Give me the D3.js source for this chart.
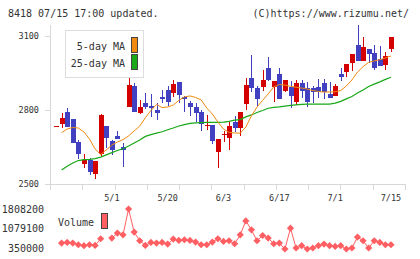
<!DOCTYPE html>
<html>
<head>
<meta charset="utf-8">
<script src="https://cdn.jsdelivr.net/npm/d3@7"></script>
<style>
  body { margin: 0; background: #fff; }
  svg { display: block; font-family: 'DejaVu Sans Mono', monospace; }
</style>
</head>
<body>
<div class="chart"></div>
<script>
// ===== daily candles, 61 sessions up to 07/15 =====
const opens  = [2734,2742,2793,2762,2669,2580,2597,2539,2620,2735,2676,2695,2649,2813,2897,2789,2830,2816,2800,2851,
                2881,2870,2912,2854,2827,2811,2793,2738,2739,2631,2700,2685,2753,2726,2824,2931,2888,2894,2971,2894,
                2946,2877,2894,2834,2908,2888,2888,2892,2908,2865,2857,2946,2955,2989,3064,3000,3047,3030,3007,2982,3047]
const highs  = [2734,2789,2809,2762,2678,2622,2607,2593,2784,2735,2678,2715,2665,2933,2911,2840,2868,2865,2827,2881,
                2897,2921,2915,2856,2838,2827,2800,2780,2741,2682,2715,2753,2777,2791,2931,3023,2897,2962,3016,2918,
                2969,2922,2918,2922,2922,2914,2897,2924,2924,2915,2905,2971,2986,3027,3145,3097,3047,3064,3059,3036,3095]
const lows   = [2734,2726,2732,2667,2600,2566,2535,2519,2614,2647,2618,2681,2570,2813,2793,2784,2803,2773,2759,2827,
                2816,2854,2827,2793,2776,2753,2716,2718,2662,2564,2671,2638,2712,2696,2800,2872,2813,2878,2918,2831,
                2845,2873,2807,2820,2847,2811,2827,2847,2843,2850,2857,2919,2935,2959,3000,3000,2992,2962,2980,2962,3036]
const closes = [2734,2769,2732,2667,2620,2597,2550,2593,2780,2685,2638,2681,2638,2901,2793,2811,2813,2809,2787,2845,
                2834,2905,2861,2843,2813,2789,2742,2740,2676,2682,2702,2735,2728,2791,2901,2888,2845,2922,2922,2918,
                2845,2922,2858,2908,2877,2834,2874,2874,2874,2850,2897,2933,2986,3027,3000,3054,3027,2971,2980,3019,3095]

// moving averages as printed (no history before the first session)
const ma5  = [null,2708,2723,2729,2727,2711,2682,2642,2620,2638,2658,2670,2680,2695,2715,2735,2768,2798,2822,2810,
              2812,2820,2839,2853,2857,2851,2841,2808,2784,2751,2723,2709,2707,2706,2731,2776,2812,2839,2865,2894,
              2903,2901,2896,2892,2889,2885,2879,2875,2873,2873,2874,2879,2897,2922,2954,2976,2993,2999,3004,3011,3019]
const ma25 = [null,2557,2572,2585,2595,2599,2600,2603,2609,2618,2627,2636,2643,2654,2666,2678,2693,2700,2706,2712,
              2720,2727,2735,2741,2746,2748,2749,2750,2750,2750,2751,2754,2759,2761,2772,2780,2790,2798,2807,2811,
              2813,2816,2819,2821,2823,2824,2824,2824,2824,2824,2828,2835,2845,2855,2869,2881,2895,2905,2914,2924,2933]

const volumes = [null,535500,557800,535500,472400,435300,472400,446500,695100,null,721000,906600,843500,1808200,943700,620900,446500,557800,535500,557800,
                 498400,683900,632000,658000,632000,572600,472400,472400,572600,695100,594900,620900,509500,843500,1362900,1029000,620900,817500,721000,509500,
                 535500,312900,1092100,350000,435300,312900,350000,435300,498400,435300,409400,435300,312900,350000,758100,620900,350000,620900,557800,472400,472400]

const dateLabels = ['5/1', '5/20', '6/3', '6/17', '7/1', '7/15']
const dateIndex  = [10, 20, 30, 40, 50, 60]
const priceTicks = [2500, 2800, 3100]
const volTicks   = [350000, 1079100, 1808200]

const W = 420, H = 259
const plot = { left: 50, right: 405, top: 25, bottom: 184 }

const up = '#d40000', down = '#4040c0'
const axisGrey = '#d8d8d8'

const svg = d3.select('.chart')
  .append('svg')
    .attr('width', W)
    .attr('height', H)

// header texts
svg.append('text')
  .attr('x', 8).attr('y', 17)
  .attr('font-size', 10).attr('fill', '#333')
  .text('8418 07/15 17:00 updated.')
svg.append('text')
  .attr('x', 409).attr('y', 17)
  .attr('text-anchor', 'end')
  .attr('font-size', 10).attr('fill', '#333')
  .text('(C)https://www.rizumu.net/')

// scales
const x = d3.scaleLinear()
  .domain([0, opens.length - 1])
  .range([56, 391])
const y = d3.scaleLinear()
  .domain([2500, 3100])
  .range([plot.bottom, 36])
const grid = d3.scaleLinear()
  .domain([0, 11])
  .range([plot.left, plot.right])
const yv = d3.scaleLinear()
  .domain([350000, 1808200])
  .range([248, 209])

// price axis
const yAxis = svg.append('g')
  .attr('transform', `translate(${plot.left}, 0)`)
  .call(d3.axisLeft(y).tickValues(priceTicks).tickFormat(d3.format('d')).tickSize(6).tickPadding(5))
yAxis.select('.domain').attr('d', `M0.5,${plot.top}V${plot.bottom}`)
yAxis.selectAll('line').attr('x1', 0.5).attr('x2', -5.5)

// bottom axis: evenly spaced ticks, date labels sit under their sessions
const xAxis = svg.append('g')
  .attr('transform', `translate(0, ${plot.bottom})`)
  .call(d3.axisBottom(grid).tickValues(d3.range(0, 12)).tickSize(6).tickFormat(''))
xAxis.select('.domain').attr('d', `M${plot.left},0.5H${plot.right}`)

svg.selectAll('.domain, .tick line')
  .attr('stroke', axisGrey)
  .attr('shape-rendering', 'crispEdges')
yAxis.selectAll('text')
  .attr('font-family', "'DejaVu Sans Mono', monospace")
  .attr('font-size', 8.5).attr('fill', '#333')

svg.append('g')
  .selectAll('text')
  .data(dateLabels)
  .join('text')
    .attr('x', (d, i) => x(dateIndex[i]))
    .attr('y', 201)
    .attr('text-anchor', 'middle')
    .attr('font-size', 8.5).attr('fill', '#333')
    .text(d => d)

// candles
const idx = d3.range(opens.length)
const candles = svg.append('g').attr('shape-rendering', 'crispEdges')
const col = i => closes[i] >= opens[i] ? up : down

candles.selectAll('line')
  .data(idx)
  .join('line')
    .attr('x1', i => Math.round(x(i)) + 0.5)
    .attr('x2', i => Math.round(x(i)) + 0.5)
    .attr('y1', i => y(highs[i]))
    .attr('y2', i => y(lows[i]))
    .attr('stroke', col)

candles.selectAll('rect')
  .data(idx)
  .join('rect')
    .attr('x', i => Math.round(x(i)) - 2)
    .attr('width', 5)
    .attr('y', i => y(Math.max(opens[i], closes[i])))
    .attr('height', i => Math.max(1, Math.abs(y(opens[i]) - y(closes[i]))))
    .attr('fill', col)

// moving averages
const maLine = arr => d3.line()
  .defined(i => arr[i] != null)
  .x(i => x(i))
  .y(i => y(arr[i]))

svg.append('path')
  .attr('d', maLine(ma25)(idx))
  .attr('fill', 'none').attr('stroke', '#18a818').attr('stroke-width', 1.2)
svg.append('path')
  .attr('d', maLine(ma5)(idx))
  .attr('fill', 'none').attr('stroke', '#f08a10').attr('stroke-width', 1)

// MA legend
const legend = svg.append('g')
legend.append('rect')
  .attr('x', 65.5).attr('y', 30.5)
  .attr('width', 78).attr('height', 47)
  .attr('fill', '#fff').attr('stroke', '#ddd')
const maKeys = [['5-day MA', '#f08a10'], ['25-day MA', '#18a818']]
maKeys.forEach(([label, c], k) => {
  legend.append('text')
    .attr('x', 125).attr('y', 49.5 + k * 17)
    .attr('text-anchor', 'end')
    .attr('font-size', 10).attr('fill', '#333')
    .text(label)
  legend.append('rect')
    .attr('x', 131.5).attr('y', 37.5 + k * 17)
    .attr('width', 6).attr('height', 15)
    .attr('fill', c).attr('stroke', '#444')
})

// volume
const volColour = '#ff5e62'
svg.append('g')
  .selectAll('text')
  .data(volTicks)
  .join('text')
    .attr('x', 44)
    .attr('y', d => yv(d) + 3.5)
    .attr('text-anchor', 'end')
    .attr('font-size', 10).attr('fill', '#333')
    .text(d => d)

svg.append('path')
  .attr('d', d3.line()
    .defined(i => volumes[i] != null)
    .x(i => x(i))
    .y(i => yv(volumes[i]))(idx))
  .attr('fill', 'none').attr('stroke', volColour)

svg.append('g')
  .selectAll('path')
  .data(idx.filter(i => volumes[i] != null))
  .join('path')
    .attr('transform', i => `translate(${x(i)}, ${yv(volumes[i])})`)
    .attr('d', 'M0,-3.6L3.6,0L0,3.6L-3.6,0Z')
    .attr('fill', volColour)

svg.append('text')
  .attr('x', 58).attr('y', 226)
  .attr('font-size', 10).attr('fill', '#333')
  .text('Volume')
svg.append('rect')
  .attr('x', 101.5).attr('y', 213.5)
  .attr('width', 6).attr('height', 15)
  .attr('fill', volColour).attr('stroke', '#444')
</script>
</body>
</html>
